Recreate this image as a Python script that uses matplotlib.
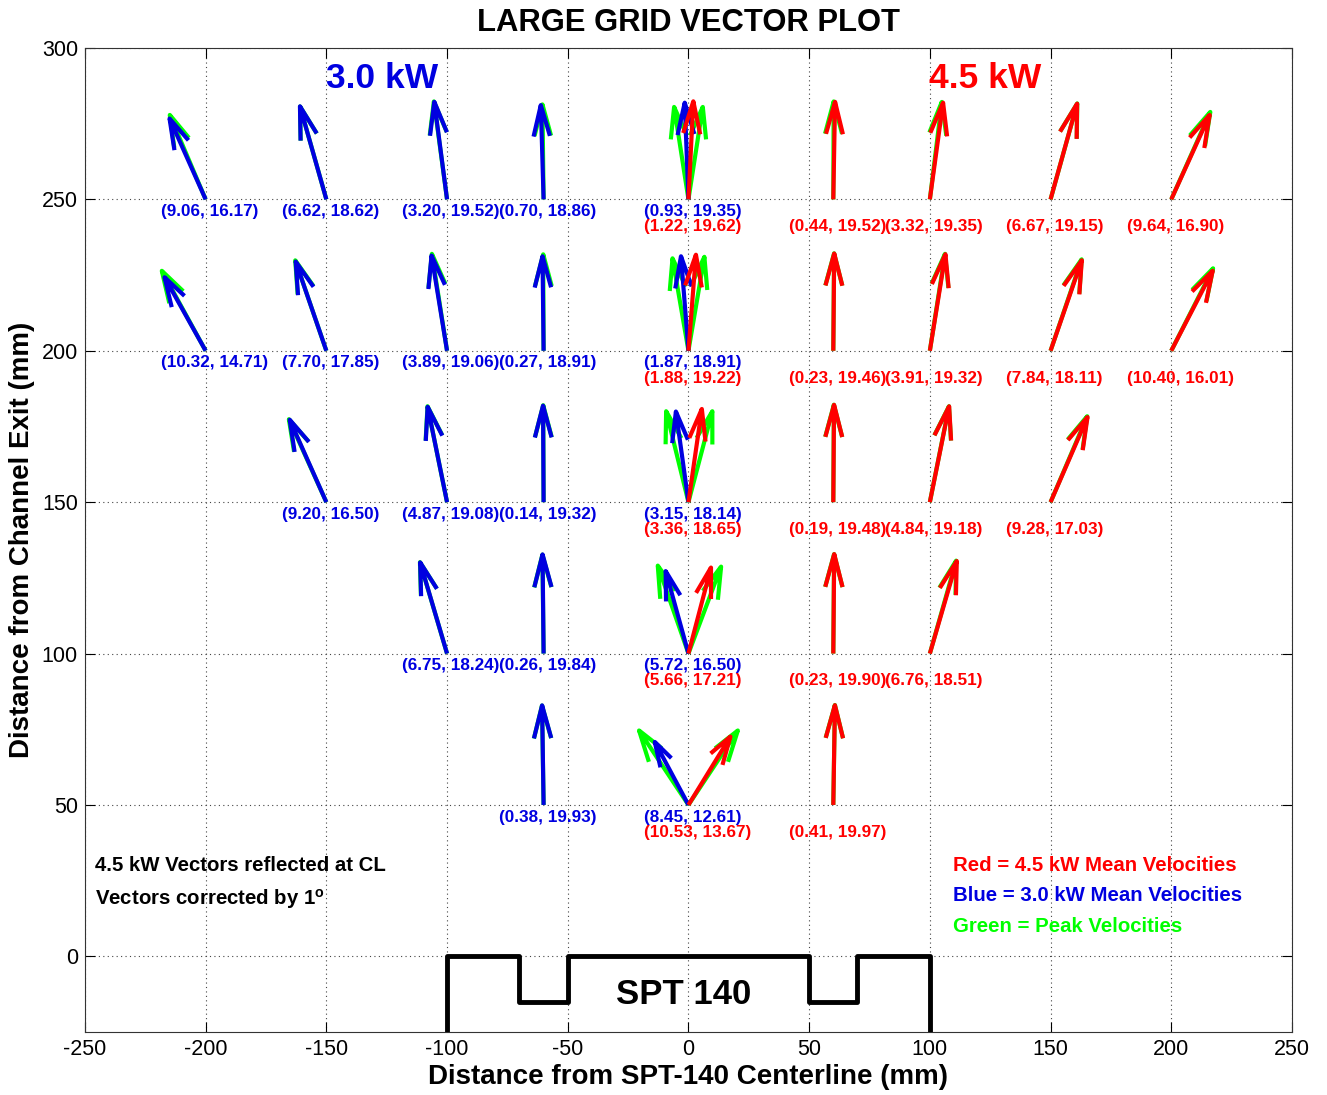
import matplotlib
matplotlib.use("Agg")
import matplotlib.pyplot as plt
import numpy as np

plt.rcParams["font.family"] = ["Liberation Sans", "DejaVu Sans"]
plt.rcParams["mathtext.fontset"] = "custom"
plt.rcParams["mathtext.rm"] = "Liberation Sans:bold"
plt.rcParams["axes.unicode_minus"] = False

# 3.0 kW mean velocities (reflected to the left of the centerline)
blue_x = [-200, -150, -100, -60, 0, -200, -150, -100, -60, 0,
          -150, -100, -60, 0, -100, -60, 0, -60, 0]
blue_y = [250, 250, 250, 250, 250, 200, 200, 200, 200, 200,
          150, 150, 150, 150, 100, 100, 100, 50, 50]
blue_vx = [9.06, 6.62, 3.20, 0.70, 0.93, 10.32, 7.70, 3.89, 0.27, 1.87,
           9.20, 4.87, 0.14, 3.15, 6.75, 0.26, 5.72, 0.38, 8.45]
blue_vy = [16.17, 18.62, 19.52, 18.86, 19.35, 14.71, 17.85, 19.06, 18.91, 18.91,
           16.50, 19.08, 19.32, 18.14, 18.24, 19.84, 16.50, 19.93, 12.61]

# 4.5 kW mean velocities
red_x = [0, 60, 100, 150, 200, 0, 60, 100, 150, 200,
         0, 60, 100, 150, 0, 60, 100, 0, 60]
red_y = [250, 250, 250, 250, 250, 200, 200, 200, 200, 200,
         150, 150, 150, 150, 100, 100, 100, 50, 50]
red_vx = [1.22, 0.44, 3.32, 6.67, 9.64, 1.88, 0.23, 3.91, 7.84, 10.40,
          3.36, 0.19, 4.84, 9.28, 5.66, 0.23, 6.76, 10.53, 0.41]
red_vy = [19.62, 19.52, 19.35, 19.15, 16.90, 19.22, 19.46, 19.32, 18.11, 16.01,
          18.65, 19.48, 19.18, 17.03, 17.21, 19.90, 18.51, 13.67, 19.97]

# peak velocities at the same points
peak30_vx = [9.0, 6.6, 3.3, 0.3, 3.6, 11.0, 7.8, 3.8, 0.1, 4.0,
             9.4, 4.9, 0.1, 5.6, 6.8, 0.3, 7.7, 0.4, 12.4]
peak30_vy = [16.9, 18.6, 19.6, 19.0, 18.5, 16.0, 18.1, 19.4, 19.3, 18.5,
             16.6, 19.2, 19.4, 18.2, 18.3, 19.8, 17.6, 19.9, 14.9]
peak45_vx = [3.6, 0.1, 3.0, 6.7, 9.8, 4.0, 0.2, 3.8, 7.8, 10.5,
             6.0, 0.15, 4.8, 9.2, 8.2, 0.2, 6.6, 12.4, 0.4]
peak45_vy = [18.5, 19.6, 19.5, 19.2, 17.5, 18.8, 19.5, 19.4, 18.3, 16.5,
             18.2, 19.5, 19.2, 17.2, 17.4, 19.9, 18.6, 14.9, 20.0]

# thruster outline
spt_x = [-100, -100, -70, -70, -50, -50, 50, 50, 70, 70, 100, 100]
spt_y = [-25, 0, 0, -15, -15, 0, 0, -15, -15, 0, 0, -25]

BLUE = "#0000E0"
RED = "#FF0000"
GREEN = "#00FF00"
SCALE = 1.65


def quiver_lines(ax, x, y, u, v, color, lw=3.0):
    # matlab-style quiver: shaft plus two open barbs, drawn in data units
    x = np.asarray(x, float)
    y = np.asarray(y, float)
    u = np.asarray(u, float) * SCALE
    v = np.asarray(v, float) * SCALE
    a, b = 0.33, 0.33
    xs, ys = [], []
    for x0, y0, du, dv in zip(x, y, u, v):
        xs += [x0, x0 + du, np.nan,
               x0 + du - a * (du + b * dv), x0 + du, x0 + du - a * (du - b * dv), np.nan]
        ys += [y0, y0 + dv, np.nan,
               y0 + dv - a * (dv - b * du), y0 + dv, y0 + dv - a * (dv + b * du), np.nan]
    ax.plot(xs, ys, color=color, lw=lw, solid_joinstyle="round",
            solid_capstyle="butt", zorder=3)


def main():
    fig = plt.figure(figsize=(13.27, 10.95), dpi=100)
    ax = fig.add_axes([0.064, 0.0575, 0.9096, 0.8987])
    ax.set_xlim(-250, 250)
    ax.set_ylim(-25, 300)
    ax.set_xticks(np.arange(-250, 251, 50))
    ax.set_yticks(np.arange(0, 301, 50))
    ax.grid(True, color="#444444", linestyle=(0, (1, 3)), lw=0.8)
    ax.tick_params(direction="in", length=7, labelsize=15.5, pad=5,
                   top=True, right=True)
    for sp in ax.spines.values():
        sp.set_color("#333333")

    # peak vectors underneath the means
    quiver_lines(ax, blue_x, blue_y, -np.asarray(peak30_vx), peak30_vy, GREEN)
    quiver_lines(ax, red_x, red_y, peak45_vx, peak45_vy, GREEN)
    quiver_lines(ax, blue_x, blue_y, -np.asarray(blue_vx), blue_vy, BLUE)
    quiver_lines(ax, red_x, red_y, red_vx, red_vy, RED)

    for x, y, vx, vy in zip(blue_x, blue_y, blue_vx, blue_vy):
        ax.text(x - 18.5, y - 4, f"({vx:.2f}, {vy:.2f})", color=BLUE,
                fontsize=12.3, fontweight="bold", ha="left", va="center")
    for x, y, vx, vy in zip(red_x, red_y, red_vx, red_vy):
        ax.text(x - 18.5, y - 9, f"({vx:.2f}, {vy:.2f})", color=RED,
                fontsize=12.3, fontweight="bold", ha="left", va="center")

    ax.plot(spt_x, spt_y, color="black", lw=3.5, zorder=4)
    ax.text(-2, -12.5, "SPT 140", fontsize=25, fontweight="bold",
            ha="center", va="center")

    ax.text(-127, 290, "3.0 kW", color=BLUE, fontsize=25.5, fontweight="bold",
            ha="center", va="center")
    ax.text(123, 290, "4.5 kW", color=RED, fontsize=25.5, fontweight="bold",
            ha="center", va="center")

    ax.text(-246, 30, "4.5 kW Vectors reflected at CL", fontsize=14.7,
            fontweight="bold", ha="left", va="center")
    ax.text(-246, 19, r"Vectors corrected by 1$^{\mathrm{o}}$", fontsize=14.7,
            fontweight="bold", ha="left", va="center")

    ax.text(109.5, 30, "Red = 4.5 kW Mean Velocities", color=RED, fontsize=14.7,
            fontweight="bold", ha="left", va="center")
    ax.text(109.5, 20, "Blue = 3.0 kW Mean Velocities", color=BLUE, fontsize=14.7,
            fontweight="bold", ha="left", va="center")
    ax.text(109.5, 10, "Green = Peak Velocities", color=GREEN, fontsize=14.7,
            fontweight="bold", ha="left", va="center")

    ax.set_title("LARGE GRID VECTOR PLOT", fontsize=22.3, fontweight="bold", pad=12)
    ax.set_xlabel("Distance from SPT-140 Centerline (mm)", fontsize=20,
                  fontweight="bold", labelpad=3)
    ax.set_ylabel("Distance from Channel Exit (mm)", fontsize=20,
                  fontweight="bold", labelpad=5)

    plt.savefig("out.png", dpi=100)
    plt.close()


if __name__ == "__main__":
    main()
